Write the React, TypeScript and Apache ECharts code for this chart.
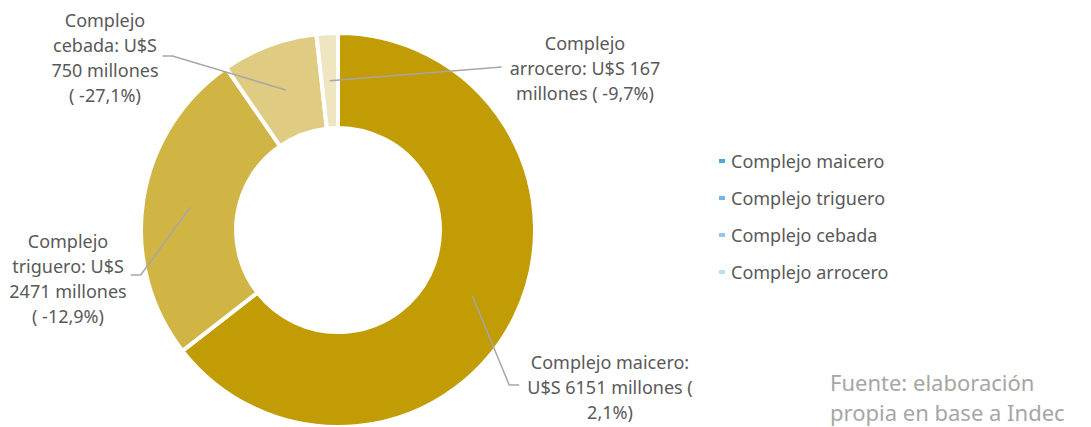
import React, { useEffect, useRef } from "react";
import * as echarts from "echarts";

const names = ["Complejo maicero", "Complejo triguero", "Complejo cebada", "Complejo arrocero"];
const values = [6151, 2471, 750, 167];
const changes = ["2,1%", "-12,9%", "-27,1%", "-9,7%"];
const sliceColors = ["#C19C04", "#D0B444", "#E0CB83", "#EFE5C0"];
const legendColors = ["#4EA6DC", "#72B8E5", "#94C9EC", "#BDDDF2"];
const labelTexts = [
  `${names[0]}:\nU$S ${values[0]} millones (\n${changes[0]})`,
  `Complejo\ntriguero: U$S\n${values[1]} millones\n( ${changes[1]})`,
  `Complejo\ncebada: U$S\n${values[2]} millones\n( ${changes[2]})`,
  `Complejo\narrocero: U$S ${values[3]}\nmillones ( ${changes[3]})`,
];
const labelPos = [
  [610, 387],
  [68, 278],
  [105, 57],
  [585, 68],
];
const lineY = [385, 275, 56, 67];

const CX = 338;
const CY = 230;
const R_IN = 102;
const R_OUT = 197;

export default function App() {
  const ref = useRef<HTMLDivElement>(null);
  useEffect(() => {
    document.body.style.margin = "0";
    const chart = echarts.init(ref.current!, null, { renderer: "svg" });
    const font = "'Noto Sans', sans-serif";
    const total = values.reduce((a, b) => a + b, 0);
    const midAngles: number[] = [];
    let acc = 0;
    values.forEach((v) => {
      midAngles.push(((acc + v / 2) / total) * Math.PI * 2);
      acc += v;
    });
    const rMid = (R_IN + R_OUT) / 2;
    const common = {
      type: "pie",
      center: [CX, CY],
      radius: [R_IN, R_OUT],
      startAngle: 90,
      clockwise: true,
      emphasis: { disabled: true },
    };
    chart.setOption({
      animation: false,
      legend: {
        orient: "vertical",
        left: 712,
        top: 147,
        icon: "rect",
        itemWidth: 8,
        itemHeight: 6,
        itemGap: 19,
        textStyle: { fontFamily: font, fontSize: 18, color: "#595959" },
        data: names.map((n, i) => ({ name: n, itemStyle: { color: legendColors[i] } })),
      },
      graphic: [
        {
          type: "text",
          left: 830,
          top: 367,
          style: {
            text: "Fuente: elaboración\npropia en base a Indec",
            fontFamily: font,
            fontSize: 22,
            lineHeight: 30,
            fill: "#A6A6A6",
          },
        },
      ],
      series: [
        {
          ...common,
          z: 2,
          data: names.map((n, i) => ({
            name: n,
            value: values[i],
            itemStyle: { color: sliceColors[i] },
          })),
          itemStyle: { borderColor: "#fff", borderWidth: 4 },
          label: { show: false },
          labelLine: { show: false },
        },
        {
          ...common,
          z: 3,
          silent: true,
          data: names.map((n, i) => ({
            name: n,
            value: values[i],
            itemStyle: { color: "rgba(0,0,0,0)" },
          })),
          itemStyle: { borderWidth: 0 },
          label: {
            show: true,
            position: "outside",
            formatter: (p: any) => labelTexts[p.dataIndex],
            fontFamily: font,
            fontSize: 18,
            lineHeight: 25,
            color: "#595959",
            align: "center",
            overflow: "none",
          },
          labelLine: {
            show: true,
            lineStyle: { color: "#A6A6A6", width: 1.5 },
          },
          labelLayout: (p: any) => {
            const i = p.dataIndex;
            const [lx, ly] = labelPos[i];
            const a = midAngles[i];
            const sx = CX + rMid * Math.sin(a);
            const sy = CY - rMid * Math.cos(a);
            const w = p.labelRect.width;
            const onRight = lx > CX;
            const edge = onRight ? lx - w / 2 - 8 : lx + w / 2 + 4;
            const elbow = onRight ? edge - 10 : edge + 10;
            const y = lineY[i];
            const pts =
              i === 3
                ? [[sx, sy], [edge, y]]
                : [[sx, sy], [elbow, y], [edge, y]];
            return {
              x: lx,
              y: ly,
              align: "center",
              verticalAlign: "middle",
              labelLinePoints: pts,
            };
          },
        },
      ],
    });
    return () => chart.dispose();
  }, []);
  return <div ref={ref} style={{ width: 1091, height: 427 }} />;
}
